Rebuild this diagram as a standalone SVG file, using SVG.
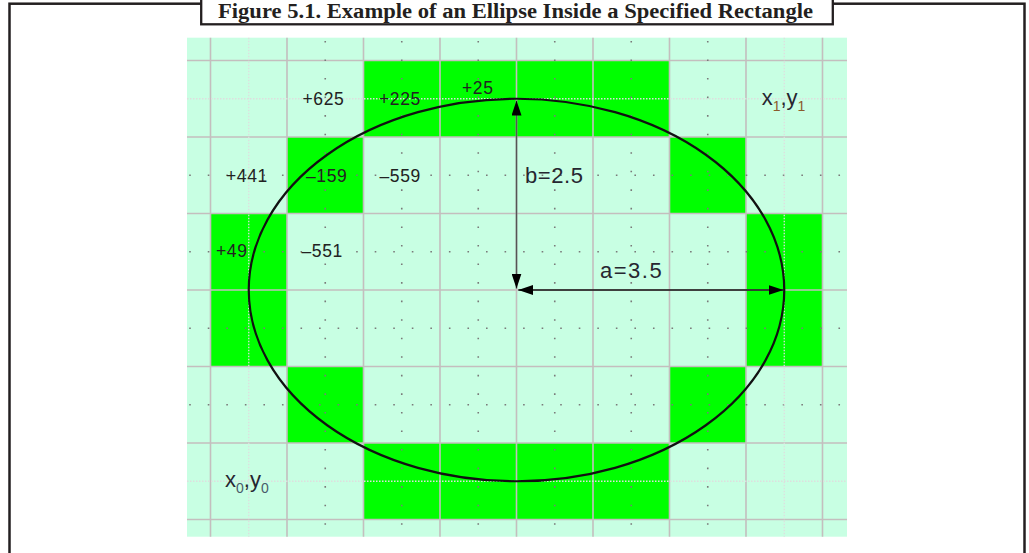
<svg xmlns="http://www.w3.org/2000/svg" width="1029" height="553" viewBox="0 0 1029 553">
  <defs>
    <marker id="ah" viewBox="0 0 15 10" markerUnits="userSpaceOnUse" markerWidth="15" markerHeight="10" refX="15" refY="5" orient="auto-start-reverse">
      <path d="M0,0 L15,5 L0,10 z" fill="#000"/>
    </marker>
  </defs>
  <style>
    .frame { fill: none; stroke: #231f20; stroke-width: 2.5; }
    .title { font-family: "Liberation Serif", "Times New Roman", serif; font-weight: bold; font-size: 20px; fill: #231f20; }
    .bg { fill: #c8ffe3; }
    .on { fill: #00ff00; }
    .grid { stroke: #c4bebe; stroke-width: 1.6; fill: none; }
    .dotv { stroke: #7a7a7a; stroke-width: 1.6; stroke-dasharray: 1.6 16.95; fill: none; }
    .doth { stroke: #7a7a7a; stroke-width: 1.6; stroke-dasharray: 1.6 16.95; fill: none; }
    .bound { stroke: #dedede; stroke-width: 1.3; stroke-dasharray: 1.5 1.5; fill: none; }
    .ell { fill: none; stroke: #111; stroke-width: 2.2; }
    .arr { fill: none; stroke-width: 1.5; }
    .num { font-family: "Liberation Sans", Arial, sans-serif; font-size: 17.5px; letter-spacing: 0.6px; fill: #222; }
    .big { font-family: "Liberation Sans", Arial, sans-serif; font-size: 22px; fill: #262630; }
    .sub { font-size: 14px; }
  </style>

  <g id="frame">
    <rect class="frame" x="9.5" y="3.7" width="1015" height="620"/>
  </g>
  <g id="caption">
    <rect x="201.2" y="-5" width="631.6" height="29.3" fill="#fff" stroke="#231f20" stroke-width="2.3"/>
    <text class="title" x="218" y="18.3" textLength="595" lengthAdjust="spacingAndGlyphs">Figure 5.1. Example of an Ellipse Inside a Specified Rectangle</text>
  </g>

  <g id="raster">
    <rect class="bg" x="187" y="37.7" width="660" height="499"/>
    <rect class="on" x="363.5" y="60.5" width="306" height="76.5"/>
    <rect class="on" x="287" y="137" width="76.5" height="76.5"/>
    <rect class="on" x="669.5" y="137" width="76.5" height="76.5"/>
    <rect class="on" x="210.5" y="213.5" width="76.5" height="153"/>
    <rect class="on" x="746" y="213.5" width="76.5" height="153"/>
    <rect class="on" x="287" y="366.5" width="76.5" height="76.5"/>
    <rect class="on" x="669.5" y="366.5" width="76.5" height="76.5"/>
    <rect class="on" x="363.5" y="443" width="306" height="76.5"/>
  </g>

  <g id="gridlines">
    <path class="grid" d="M210.5,37.7V536.7 M287,37.7V536.7 M363.5,37.7V536.7 M440,37.7V536.7 M516.5,37.7V536.7 M593,37.7V536.7 M669.5,37.7V536.7 M746,37.7V536.7 M822.5,37.7V536.7"/>
    <path class="grid" d="M187,60.5H847 M187,137H847 M187,213.5H847 M187,290H847 M187,366.5H847 M187,443H847 M187,519.5H847"/>
    <path class="dotv" d="M325.25,40.9V537 M401.75,40.9V537 M478.25,40.9V537 M554.75,40.9V537 M631.25,40.9V537 M707.75,40.9V537"/>
    <path class="doth" d="M189.2,175.25H847 M189.2,251.75H847 M189.2,328.25H847 M189.2,404.75H847"/>
    <path class="bound" d="M248.75,37.7V536.7 M784.25,37.7V536.7 M187,98.75H847 M187,481.25H847"/>
  </g>

  <g id="ellipse">
    <ellipse class="ell" cx="516.5" cy="290" rx="267.75" ry="191.25"/>
  </g>

  <g id="connectors">
    <line class="arr" x1="516.5" y1="288.5" x2="516.5" y2="100.5" stroke="#555" marker-start="url(#ah)" marker-end="url(#ah)"/>
    <line class="arr" x1="518.3" y1="290" x2="783.5" y2="290" stroke="#111" marker-start="url(#ah)" marker-end="url(#ah)"/>
  </g>

  <g id="labels">
    <text class="num" x="302.5" y="105">+625</text>
    <text class="num" x="379" y="105">+225</text>
    <text class="num" x="462" y="94">+25</text>
    <text class="num" x="226" y="181.7">+441</text>
    <text class="num" x="306" y="181.7">–159</text>
    <text class="num" x="379.5" y="181.7">–559</text>
    <text class="num" x="216" y="257.3">+49</text>
    <text class="num" x="301.5" y="257.3">–551</text>
    <text class="big" x="525" y="183.3" letter-spacing="0.6">b=2.5</text>
    <text class="big" x="600" y="278.3" letter-spacing="1.5">a=3.5</text>
    <text class="big" x="761.7" y="105">x<tspan class="sub" dy="6" fill="#8b5a2b">1</tspan><tspan dy="-6">,y</tspan><tspan class="sub" dy="6" fill="#8b5a2b">1</tspan></text>
    <text class="big" x="225" y="486.7">x<tspan class="sub" dy="6" fill="#4a5a6a">0</tspan><tspan dy="-6">,y</tspan><tspan class="sub" dy="6" fill="#4a5a6a">0</tspan></text>
  </g>
</svg>
